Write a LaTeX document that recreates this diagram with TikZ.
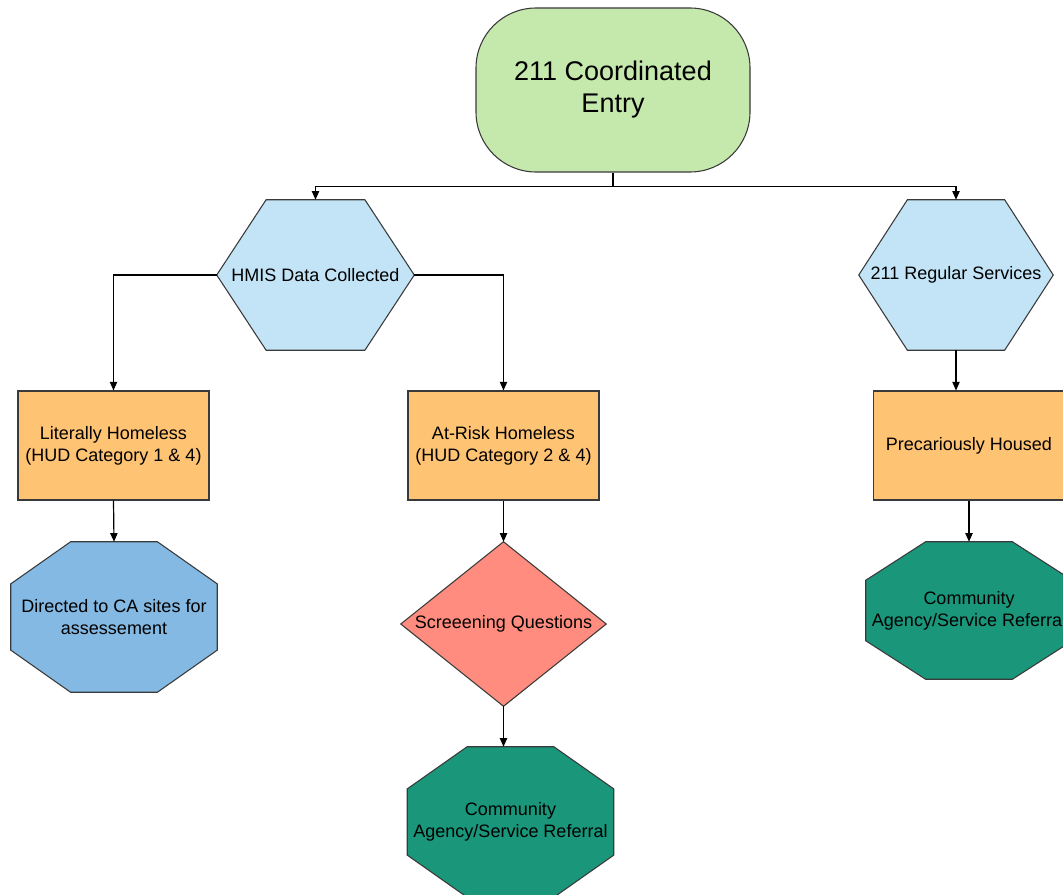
\documentclass[tikz,border=0pt]{standalone}
\usepackage{fontspec}
\setmainfont{Liberation Sans}
\usetikzlibrary{arrows.meta,calc,backgrounds}

\definecolor{startgreen}{HTML}{C5E8AD}
\definecolor{hexblue}{HTML}{C2E4F6}
\definecolor{boxorange}{HTML}{FFC374}
\definecolor{octblue}{HTML}{84B9E3}
\definecolor{salmon}{HTML}{FF8C7E}
\definecolor{teal}{HTML}{1A967B}
\definecolor{edge}{HTML}{3A3A3A}

% outlines of the polygon nodes, built from the anchors of a plain rectangle node
\newcommand\hexoutline[1]{(#1.west)
  -- ($(#1.north west)!0.25!(#1.north east)$) -- ($(#1.north west)!0.75!(#1.north east)$)
  -- (#1.east)
  -- ($(#1.south west)!0.75!(#1.south east)$) -- ($(#1.south west)!0.25!(#1.south east)$)
  -- cycle}
\newcommand\octoutline[1]{($(#1.north west)!0.29!(#1.north east)$)
  -- ($(#1.north west)!0.71!(#1.north east)$)
  -- ($(#1.north east)!0.28!(#1.south east)$) -- ($(#1.north east)!0.72!(#1.south east)$)
  -- ($(#1.south west)!0.71!(#1.south east)$) -- ($(#1.south west)!0.29!(#1.south east)$)
  -- ($(#1.north west)!0.72!(#1.south west)$) -- ($(#1.north west)!0.28!(#1.south west)$)
  -- cycle}
\newcommand\diaoutline[1]{(#1.north) -- (#1.east) -- (#1.south) -- (#1.west) -- cycle}

\tikzset{
  body/.style={font=\fontsize{13.5}{16.5}\selectfont, align=center, inner sep=0pt},
  boxnode/.style={body, draw=edge, line width=0.8pt, fill=boxorange,
    minimum width=143.25pt, minimum height=81.75pt},
  shapenode/.style={body},
  outline/.style={draw=edge, line width=0.8pt},
  conn/.style={line width=0.9pt, -{Triangle[length=6.5pt,width=5.5pt]}},
}

\begin{document}
\begin{tikzpicture}[x=0.75pt, y=-0.75pt]
\useasboundingbox (0,0) rectangle (1063,895);
\clip (0,0) rectangle (1063,895);

% start node
\node[draw=edge, line width=0.8pt, fill=startgreen, rounded corners=45pt,
      minimum width=205.5pt, minimum height=123pt, align=center,
      font=\fontsize{20.25}{24}\selectfont] (entry) at (613,90) {211 Coordinated\\Entry};

% hexagons
\node[shapenode, minimum width=147.75pt, minimum height=112.5pt] (hmis) at (315.5,275) {HMIS Data Collected};
\node[shapenode, minimum width=145.5pt, minimum height=112.5pt] (regular) at (956,275) {211 Regular Services};

% category boxes
\node[boxnode] (literal) at (113.5,445.5) {Literally Homeless\\(HUD Category 1 \& 4)};
\node[boxnode] (atrisk) at (503.5,445.5) {At-Risk Homeless\\(HUD Category 2 \& 4)};
\node[boxnode] (precar) at (969,445.5) {Precariously Housed};

% outcomes
\node[shapenode, minimum width=154.5pt, minimum height=112.5pt] (directed) at (114,617) {Directed to CA sites for\\assessement};
\node[shapenode, minimum width=153.75pt, minimum height=123pt] (screen) at (503.5,624) {Screeening Questions};
\node[shapenode, minimum width=154.5pt, minimum height=112.5pt] (referralA) at (510.5,822) {Community\\Agency/Service Referral};
\node[shapenode, minimum width=154.5pt, minimum height=102.75pt] (referralB) at (969,610.5) {Community\\Agency/Service Referral};

\begin{scope}[on background layer]
  \path[outline, fill=hexblue] \hexoutline{hmis};
  \path[outline, fill=hexblue] \hexoutline{regular};
  \path[outline, fill=octblue] \octoutline{directed};
  \path[outline, fill=salmon] \diaoutline{screen};
  \path[outline, fill=teal] \octoutline{referralA};
  \path[outline, fill=teal] \octoutline{referralB};
\end{scope}

% connectors
\coordinate (split) at ($(entry.south)+(0,14)$);
\draw[line width=0.9pt] (entry.south) -- (split);
\draw[conn] (split) -| (hmis.north);
\draw[conn] (split) -| (regular.north);
\draw[conn] (hmis.west) -| (literal.north);
\draw[conn] (hmis.east) -| (atrisk.north);
\draw[conn] (regular.south) -- (regular.south |- precar.north);
\draw[conn] (literal.south) -- (directed.north);
\draw[conn] (atrisk.south) -- (screen.north);
\draw[conn] (screen.south) -- (screen.south |- referralA.north);
\draw[conn] (precar.south) -- (precar.south |- referralB.north);
\end{tikzpicture}
\end{document}
